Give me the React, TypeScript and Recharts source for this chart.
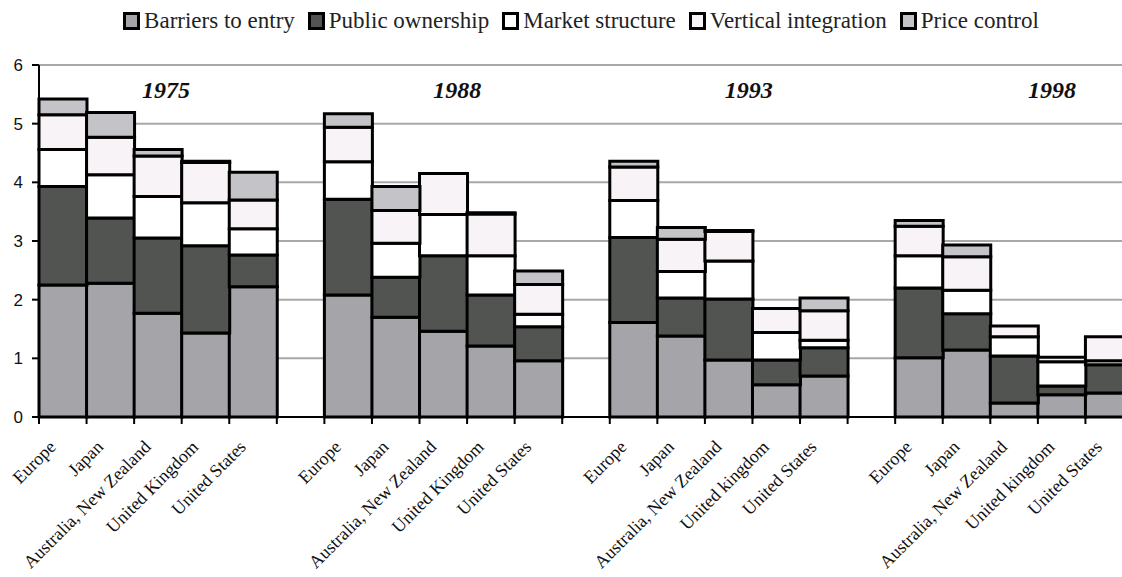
import React from 'react';
import { BarChart, Bar, XAxis, YAxis, CartesianGrid, ReferenceDot } from 'recharts';

// periods and country labels (later panels spell "United kingdom")
const years = ['1975', '1988', '1993', '1998'];
const countriesEarly = ['Europe', 'Japan', 'Australia, New Zealand', 'United Kingdom', 'United States'];
const countriesLate = ['Europe', 'Japan', 'Australia, New Zealand', 'United kingdom', 'United States'];
const yearCountries = [countriesEarly, countriesEarly, countriesLate, countriesLate];

// one array per series, 5 countries x 4 years
const barriers = [
  2.25, 2.28, 1.77, 1.43, 2.22,
  2.08, 1.70, 1.46, 1.21, 0.96,
  1.61, 1.38, 0.97, 0.55, 0.70,
  1.01, 1.14, 0.24, 0.38, 0.41,
];
const publicOwnership = [
  1.68, 1.11, 1.28, 1.49, 0.54,
  1.63, 0.68, 1.29, 0.87, 0.58,
  1.45, 0.65, 1.04, 0.42, 0.48,
  1.19, 0.62, 0.80, 0.15, 0.48,
];
const marketStructure = [
  0.63, 0.74, 0.71, 0.73, 0.45,
  0.64, 0.58, 0.70, 0.67, 0.21,
  0.63, 0.45, 0.65, 0.47, 0.13,
  0.55, 0.40, 0.33, 0.41, 0.07,
];
const verticalIntegration = [
  0.59, 0.64, 0.69, 0.69, 0.49,
  0.59, 0.56, 0.70, 0.71, 0.51,
  0.57, 0.55, 0.50, 0.41, 0.50,
  0.50, 0.57, 0.18, 0.08, 0.41,
];
const priceControl = [
  0.27, 0.42, 0.11, 0.02, 0.47,
  0.23, 0.41, 0, 0.02, 0.23,
  0.10, 0.20, 0.02, 0, 0.22,
  0.10, 0.20, 0, 0, 0,
];

const yTicks = [0, 1, 2, 3, 4, 5, 6];

const series = [
  { key: 'barriers', name: 'Barriers to entry', color: '#a5a4a8', values: barriers },
  { key: 'publicOwnership', name: 'Public ownership', color: '#525452', values: publicOwnership },
  { key: 'marketStructure', name: 'Market structure', color: '#ffffff', values: marketStructure },
  { key: 'verticalIntegration', name: 'Vertical integration', color: '#f7f3f7', values: verticalIntegration },
  { key: 'priceControl', name: 'Price control', color: '#c4c3c7', values: priceControl },
];

// year captions: anchored on the middle bar of each block, nudged like the original text boxes
const yearLabelShift = [8, 14, 20, 38];

// build rows, with an empty slot between the year blocks
const rows: any[] = [];
years.forEach((year, g) => {
  yearCountries[g].forEach((country, i) => {
    const row: any = { id: `${year}-${i}`, label: country };
    series.forEach(s => { row[s.key] = s.values[g * 5 + i]; });
    rows.push(row);
  });
  if (g < years.length - 1) rows.push({ id: `gap-${g}`, label: '' });
});
const labelById: Record<string, string> = {};
rows.forEach(r => { labelById[r.id] = r.label; });

const CountryTick = (props: any) => {
  const { x, y, payload } = props;
  const half = payload && payload.offset ? payload.offset : 23.8;
  const label = labelById[payload.value];
  const tx = x - 6;
  const ty = y + 31;
  return (
    <g>
      <line x1={x - half} x2={x - half} y1={y} y2={y + 7} stroke="#000" strokeWidth={2} />
      {label ? (
        <text
          x={tx}
          y={ty}
          transform={`rotate(-45, ${tx}, ${ty})`}
          textAnchor="end"
          fontFamily="'Liberation Serif', 'Times New Roman', serif"
          fontSize={18}
          fill="#111"
        >
          {label}
        </text>
      ) : null}
    </g>
  );
};

const yearLabel = (text: string, dx: number) => (p: any) => {
  const vb = p.viewBox || {};
  const cx = (vb.x || 0) + (vb.width || 0) / 2 + dx;
  const cy = (vb.y || 0) + (vb.height || 0) / 2;
  return (
    <text
      x={cx}
      y={cy + 8}
      textAnchor="middle"
      fontFamily="'Liberation Serif', 'Times New Roman', serif"
      fontStyle="italic"
      fontWeight="bold"
      fontSize={24}
      fill="#111"
    >
      {text}
    </text>
  );
};

export default function App() {
  return (
    <div style={{ position: 'absolute', left: 0, top: 0, width: 1122, height: 577, overflow: 'hidden', background: '#fff' }}>
      <BarChart
        width={1133}
        height={577}
        data={rows}
        margin={{ top: 65, right: 0, left: 0, bottom: 0 }}
        barCategoryGap={0}
      >
        <CartesianGrid vertical={false} stroke="#a8a8a8" strokeWidth={2} />
        <XAxis
          dataKey="id"
          interval={0}
          height={160}
          tickLine={false}
          tickSize={0}
          tickMargin={0}
          axisLine={{ stroke: '#000', strokeWidth: 2 }}
          tick={<CountryTick />}
        />
        <YAxis
          domain={[0, 6]}
          ticks={yTicks}
          width={39}
          axisLine={{ stroke: '#000', strokeWidth: 2 }}
          tickLine={{ stroke: '#000', strokeWidth: 2 }}
          tickSize={7}
          tickMargin={9}
          tick={{ fill: '#111', fontSize: 17, fontFamily: "'Liberation Sans', Arial, sans-serif" }}
        />
        {series.map(s => (
          <Bar
            key={s.key}
            dataKey={s.key}
            name={s.name}
            stackId="total"
            fill={s.color}
            stroke="#000"
            strokeWidth={3}
            isAnimationActive={false}
          />
        ))}
        {years.map((year, g) => (
          <ReferenceDot
            key={year}
            x={`${year}-2`}
            y={5.58}
            r={0}
            fill="none"
            stroke="none"
            label={{ content: yearLabel(year, yearLabelShift[g]) }}
          />
        ))}
      </BarChart>
      <div
        style={{
          position: 'absolute',
          top: 8,
          left: 20,
          width: 1122,
          display: 'flex',
          justifyContent: 'center',
          alignItems: 'center',
          gap: 13,
          fontFamily: "'Liberation Serif', 'Times New Roman', serif",
          fontSize: 23,
          color: '#222',
        }}
      >
        {series.map(s => (
          <div key={s.key} style={{ display: 'flex', alignItems: 'center' }}>
            <span style={{ display: 'inline-block', width: 11, height: 12, border: '3px solid #000', background: s.color, marginRight: 4 }} />
            <span>{s.name}</span>
          </div>
        ))}
      </div>
    </div>
  );
}
